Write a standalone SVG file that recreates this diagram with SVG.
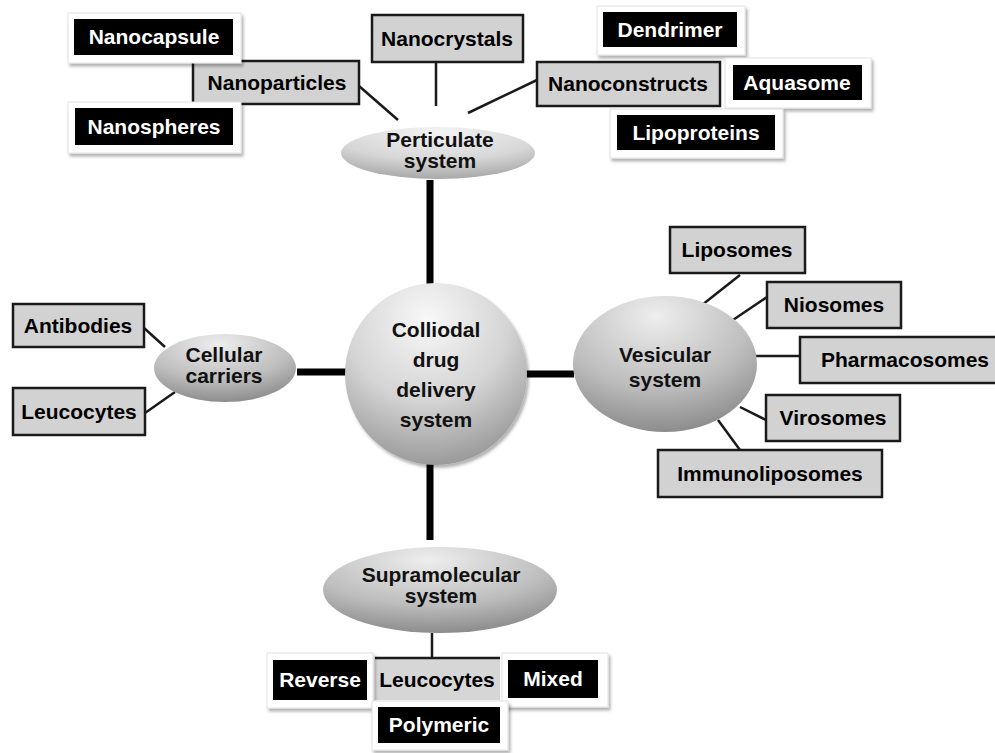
<svg xmlns="http://www.w3.org/2000/svg" width="995" height="753" viewBox="0 0 995 753">
<defs>
<radialGradient id="gc" cx="0.45" cy="0.2" r="0.9">
<stop offset="0" stop-color="#f8f8f8"/><stop offset="0.5" stop-color="#d4d4d4"/><stop offset="1" stop-color="#8a8a8a"/>
</radialGradient>
<radialGradient id="ge" cx="0.45" cy="0.15" r="0.95">
<stop offset="0" stop-color="#eeeeee"/><stop offset="0.55" stop-color="#bdbdbd"/><stop offset="1" stop-color="#7e7e7e"/>
</radialGradient>
<radialGradient id="gp" cx="0.5" cy="0.1" r="0.9">
<stop offset="0" stop-color="#f4f4f4"/><stop offset="0.6" stop-color="#d6d6d6"/><stop offset="1" stop-color="#a8a8a8"/>
</radialGradient>
<filter id="sh" x="-10%" y="-10%" width="130%" height="140%"><feDropShadow dx="2" dy="3" stdDeviation="1.5" flood-color="#000" flood-opacity="0.3"/></filter>
</defs>
<style>
text{font-family:"Liberation Sans",Arial,sans-serif;font-weight:bold;font-size:21px;text-anchor:middle}
.gb{fill:#d2d2d2;stroke:#1a1a1a;stroke-width:2.5}
.bk{fill:#000}
.fr{fill:#fff;stroke:#e2e2e2;stroke-width:1;filter:url(#sh)}
.wt{fill:#fff}
.dk{fill:#111}
.thin{stroke:#1a1a1a;stroke-width:2.5;fill:none}
.thick{stroke:#000;stroke-width:7;fill:none}
</style>
<rect width="995" height="753" fill="#fff"/>
<g id="connectors">
<line class="thick" x1="430" y1="180" x2="430" y2="284"/>
<line class="thick" x1="297" y1="372" x2="346" y2="372"/>
<line class="thick" x1="526" y1="374" x2="574" y2="374"/>
<line class="thick" x1="430" y1="464" x2="430" y2="540"/>
<line class="thin" x1="359" y1="86" x2="398" y2="120"/>
<line class="thin" x1="436" y1="62" x2="436" y2="106"/>
<line class="thin" x1="537" y1="80" x2="468" y2="113"/>
<line class="thin" x1="144" y1="328" x2="165" y2="347"/>
<line class="thin" x1="145" y1="413" x2="175" y2="392"/>
<line class="thin" x1="740" y1="275" x2="702" y2="305"/>
<line class="thin" x1="767" y1="297" x2="730" y2="322"/>
<line class="thin" x1="755" y1="356" x2="800" y2="356"/>
<line class="thin" x1="740" y1="407" x2="766" y2="420"/>
<line class="thin" x1="718" y1="420" x2="740" y2="450"/>
<line class="thin" x1="432" y1="633" x2="432" y2="658"/>
</g>
<g id="center">
<circle cx="436" cy="374" r="91" fill="url(#gc)" filter="url(#sh)"/>
<text x="436" y="337" class="dk">Colliodal</text>
<text x="436" y="367" class="dk">drug</text>
<text x="436" y="397" class="dk">delivery</text>
<text x="436" y="427" class="dk">system</text>
</g>
<g id="perticulate">
<ellipse cx="438" cy="153" rx="97" ry="26" fill="url(#gp)"/>
<text x="440" y="147" class="dk">Perticulate</text>
<text x="440" y="168" class="dk">system</text>
</g>
<g id="cellular">
<ellipse cx="225" cy="368" rx="71" ry="34" fill="url(#ge)"/>
<text x="224" y="362" class="dk">Cellular</text>
<text x="224" y="383" class="dk">carriers</text>
</g>
<g id="vesicular">
<ellipse cx="665" cy="364" rx="92" ry="68" fill="url(#ge)"/>
<text x="665" y="362" class="dk">Vesicular</text>
<text x="665" y="387" class="dk">system</text>
</g>
<g id="supramolecular">
<ellipse cx="440" cy="590" rx="117" ry="43" fill="url(#ge)"/>
<text x="441" y="582" class="dk">Supramolecular</text>
<text x="441" y="603" class="dk">system</text>
</g>
<g id="nanoparticles"><rect class="gb" x="193" y="61" width="166" height="43"/><text x="277" y="90">Nanoparticles</text></g>
<g id="nanocapsule"><rect class="fr" x="68" y="13" width="173" height="50"/><rect class="bk" x="74" y="19" width="159" height="36"/><text x="154" y="44" class="wt">Nanocapsule</text></g>
<g id="nanospheres"><rect class="fr" x="68" y="102" width="173" height="51"/><rect class="bk" x="75" y="108" width="158" height="37"/><text x="154" y="134" class="wt">Nanospheres</text></g>
<g id="nanocrystals"><rect class="gb" x="372" y="15" width="151" height="47"/><text x="447" y="46">Nanocrystals</text></g>
<g id="nanoconstructs"><rect class="gb" x="537" y="62" width="183" height="44"/><text x="628" y="91">Nanoconstructs</text></g>
<g id="dendrimer"><rect class="fr" x="597" y="6" width="148" height="49"/><rect class="bk" x="603" y="12" width="134" height="35"/><text x="670" y="37" class="wt">Dendrimer</text></g>
<g id="aquasome"><rect class="fr" x="725" y="58" width="146" height="50"/><rect class="bk" x="733" y="65" width="129" height="35"/><text x="797" y="90" class="wt">Aquasome</text></g>
<g id="lipoproteins"><rect class="fr" x="610" y="109" width="173" height="49"/><rect class="bk" x="617" y="115" width="158" height="35"/><text x="696" y="140" class="wt">Lipoproteins</text></g>
<g id="antibodies"><rect class="gb" x="13" y="304" width="131" height="43"/><text x="78" y="333">Antibodies</text></g>
<g id="leucocytes1"><rect class="gb" x="13" y="388" width="132" height="47"/><text x="79" y="419">Leucocytes</text></g>
<g id="liposomes"><rect class="gb" x="670" y="227" width="135" height="46"/><text x="737" y="257">Liposomes</text></g>
<g id="niosomes"><rect class="gb" x="767" y="282" width="134" height="46"/><text x="834" y="312">Niosomes</text></g>
<g id="pharmacosomes"><rect class="gb" x="800" y="337" width="198" height="46"/><text x="905" y="367">Pharmacosomes</text></g>
<g id="virosomes"><rect class="gb" x="766" y="395" width="134" height="46"/><text x="833" y="425">Virosomes</text></g>
<g id="immunoliposomes"><rect class="gb" x="658" y="450" width="224" height="47"/><text x="770" y="481">Immunoliposomes</text></g>
<g id="leucocytes2"><rect x="375" y="658" width="125" height="42" fill="#d6d6d6"/><line x1="375" y1="658" x2="500" y2="658" stroke="#1a1a1a" stroke-width="2.5"/><text x="437" y="687">Leucocytes</text></g>
<g id="reverse"><rect class="fr" x="267" y="653" width="106" height="55"/><rect class="bk" x="273" y="660" width="94" height="40"/><text x="320" y="687" class="wt">Reverse</text></g>
<g id="mixed"><rect class="fr" x="502" y="653" width="106" height="54"/><rect class="bk" x="508" y="660" width="90" height="38"/><text x="553" y="686" class="wt">Mixed</text></g>
<g id="polymeric"><rect class="fr" x="372" y="701" width="136" height="49"/><rect class="bk" x="378" y="707" width="122" height="36"/><text x="439" y="732" class="wt">Polymeric</text></g>
</svg>
